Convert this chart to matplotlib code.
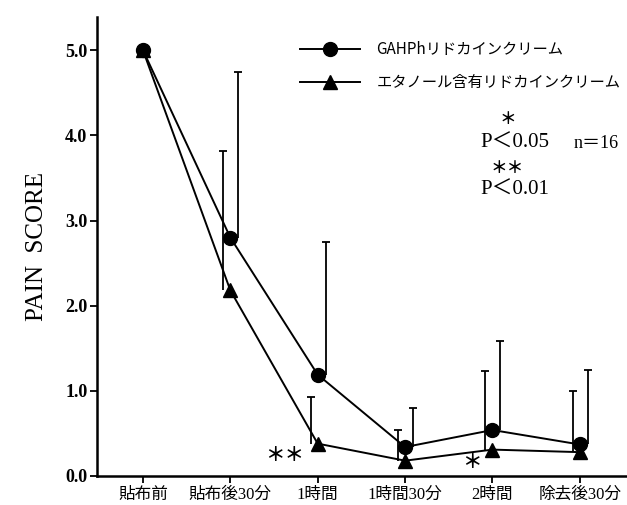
import numpy as np
import matplotlib
matplotlib.use("Agg")
import matplotlib.pyplot as plt

SERIF_JP = ["Liberation Serif", "Noto Sans CJK JP"]

# time points and mean pain scores
times = ["貼布前", "貼布後30分", "1時間", "1時間30分", "2時間", "除去後30分"]
gahph_mean = [5.0, 2.80, 1.19, 0.34, 0.54, 0.37]
gahph_sd = [0.0, 1.94, 1.56, 0.46, 1.04, 0.87]
etoh_mean = [5.0, 2.18, 0.38, 0.18, 0.31, 0.28]
etoh_sd = [0.0, 1.64, 0.55, 0.36, 0.92, 0.72]

labels = ["GAHPhリドカインクリーム", "エタノール含有リドカインクリーム"]

W, H = 627, 505
fig = plt.figure(figsize=(W / 100, H / 100), dpi=100)
ax = fig.add_axes([97 / W, 29 / H, 530 / W, 459 / H])


def fx(x, y):
    return x / W, 1 - y / H


x = np.arange(len(times))

l1, = ax.plot(x, gahph_mean, color="black", lw=1.4, marker="o", ms=10, zorder=3)
l2, = ax.plot(x, etoh_mean, color="black", lw=1.4, marker="^", ms=10, zorder=3)

# upper-only SD bars, drawn slightly beside each marker
for means, sds, dx in [(gahph_mean, gahph_sd, 0.09), (etoh_mean, etoh_sd, -0.08)]:
    m = np.array(means[1:])
    s = np.array(sds[1:])
    _, caps, _ = ax.errorbar(x[1:] + dx, m, yerr=[np.zeros_like(s), s], fmt="none",
                             ecolor="black", elinewidth=1.3, capsize=3, capthick=1.3)
    caps[0].set_visible(False)

ax.set_xlim(-0.526, 5.54)
ax.set_ylim(0, 5.39)
ax.set_yticks([0, 1, 2, 3, 4, 5])
ax.set_yticklabels(["0.0", "1.0", "2.0", "3.0", "4.0", "5.0"],
                   family="Liberation Serif", fontsize=13, fontweight="bold")
ax.set_xticks(x)
ax.set_xticklabels(times, family=SERIF_JP, fontsize=12)
ax.tick_params(axis="both", width=1.3, length=5, color="black")
ax.tick_params(axis="y", pad=2)
ax.tick_params(axis="x", pad=3)
for side in ["top", "right"]:
    ax.spines[side].set_visible(False)
for side in ["left", "bottom"]:
    ax.spines[side].set_linewidth(1.8)

ax.set_ylabel("PAIN  SCORE", family="Liberation Serif", fontsize=18, labelpad=12)

leg = ax.legend([l1, l2], labels, loc="upper left", bbox_to_anchor=fx(300, 41),
                bbox_transform=fig.transFigure, frameon=False, borderpad=0,
                borderaxespad=0, handlelength=3.9, handletextpad=1.1,
                labelspacing=1.05, prop={"family": "Noto Sans CJK JP", "size": 11})

# significance marks on the chart
ax.text(1.62, 0.24, "＊＊", family="Noto Sans CJK JP", fontsize=14, fontweight="bold",
        ha="center", va="center")
ax.text(3.76, 0.16, "＊", family="Noto Sans CJK JP", fontsize=14, fontweight="bold",
        ha="center", va="center")

# legend notes on the right
fig.text(*fx(508, 119), "＊", family="Noto Sans CJK JP", fontsize=12, fontweight="bold",
         ha="center", va="center")
fig.text(*fx(480, 143), "P＜0.05", family=SERIF_JP, fontsize=15, ha="left", va="center")
fig.text(*fx(574, 143), "n＝16", family=SERIF_JP, fontsize=13, ha="left", va="center")
fig.text(*fx(507, 168), "＊＊", family="Noto Sans CJK JP", fontsize=12, fontweight="bold",
         ha="center", va="center")
fig.text(*fx(480, 190), "P＜0.01", family=SERIF_JP, fontsize=15, ha="left", va="center")

fig.savefig("out.png", dpi=100)
